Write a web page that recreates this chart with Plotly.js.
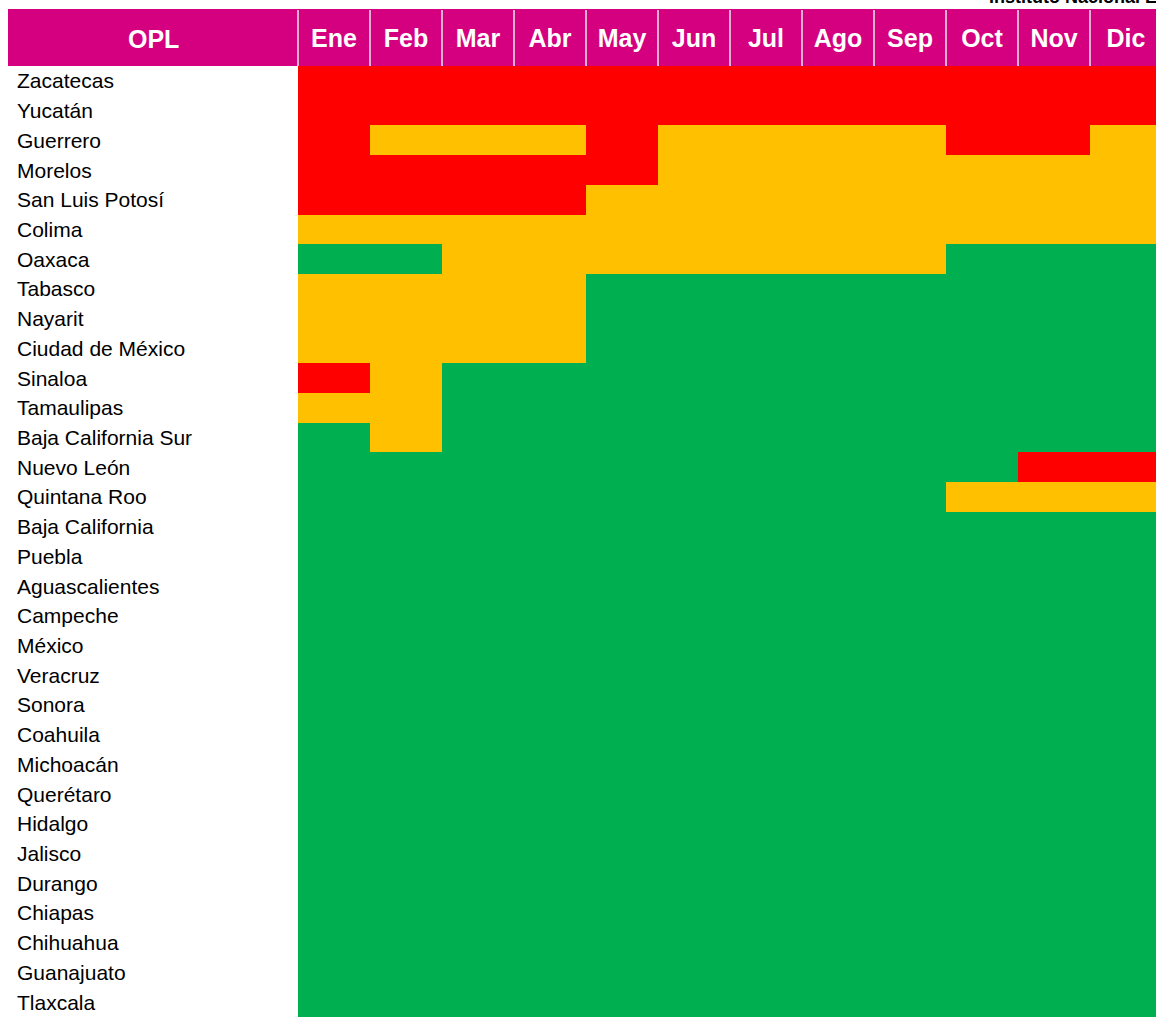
<!DOCTYPE html>
<html>
<head>
<meta charset="utf-8">
<script src="https://cdn.plot.ly/plotly-3.0.1.min.js"></script>
<style>html,body{margin:0;padding:0;background:#fff;}#chart{width:1156px;height:1017px;}</style>
</head>
<body>
<div id="chart"></div>
<script>
const months = ['Ene','Feb','Mar','Abr','May','Jun','Jul','Ago','Sep','Oct','Nov','Dic'];
const states = ['Zacatecas','Yucatán','Guerrero','Morelos','San Luis Potosí','Colima','Oaxaca','Tabasco','Nayarit','Ciudad de México','Sinaloa','Tamaulipas','Baja California Sur','Nuevo León','Quintana Roo','Baja California','Puebla','Aguascalientes','Campeche','México','Veracruz','Sonora','Coahuila','Michoacán','Querétaro','Hidalgo','Jalisco','Durango','Chiapas','Chihuahua','Guanajuato','Tlaxcala'];
// 0 = verde, 1 = amarillo, 2 = rojo
const levelColors = ['#00B050','#FFC000','#FF0000'];
const status = [
  [2,2,2,2,2,2,2,2,2,2,2,2], // Zacatecas
  [2,2,2,2,2,2,2,2,2,2,2,2], // Yucatán
  [2,1,1,1,2,1,1,1,1,2,2,1], // Guerrero
  [2,2,2,2,2,1,1,1,1,1,1,1], // Morelos
  [2,2,2,2,1,1,1,1,1,1,1,1], // San Luis Potosí
  [1,1,1,1,1,1,1,1,1,1,1,1], // Colima
  [0,0,1,1,1,1,1,1,1,0,0,0], // Oaxaca
  [1,1,1,1,0,0,0,0,0,0,0,0], // Tabasco
  [1,1,1,1,0,0,0,0,0,0,0,0], // Nayarit
  [1,1,1,1,0,0,0,0,0,0,0,0], // Ciudad de México
  [2,1,0,0,0,0,0,0,0,0,0,0], // Sinaloa
  [1,1,0,0,0,0,0,0,0,0,0,0], // Tamaulipas
  [0,1,0,0,0,0,0,0,0,0,0,0], // Baja California Sur
  [0,0,0,0,0,0,0,0,0,0,2,2], // Nuevo León
  [0,0,0,0,0,0,0,0,0,1,1,1], // Quintana Roo
  [0,0,0,0,0,0,0,0,0,0,0,0], // Baja California
  [0,0,0,0,0,0,0,0,0,0,0,0], // Puebla
  [0,0,0,0,0,0,0,0,0,0,0,0], // Aguascalientes
  [0,0,0,0,0,0,0,0,0,0,0,0], // Campeche
  [0,0,0,0,0,0,0,0,0,0,0,0], // México
  [0,0,0,0,0,0,0,0,0,0,0,0], // Veracruz
  [0,0,0,0,0,0,0,0,0,0,0,0], // Sonora
  [0,0,0,0,0,0,0,0,0,0,0,0], // Coahuila
  [0,0,0,0,0,0,0,0,0,0,0,0], // Michoacán
  [0,0,0,0,0,0,0,0,0,0,0,0], // Querétaro
  [0,0,0,0,0,0,0,0,0,0,0,0], // Hidalgo
  [0,0,0,0,0,0,0,0,0,0,0,0], // Jalisco
  [0,0,0,0,0,0,0,0,0,0,0,0], // Durango
  [0,0,0,0,0,0,0,0,0,0,0,0], // Chiapas
  [0,0,0,0,0,0,0,0,0,0,0,0], // Chihuahua
  [0,0,0,0,0,0,0,0,0,0,0,0], // Guanajuato
  [0,0,0,0,0,0,0,0,0,0,0,0]  // Tlaxcala
];
const headerLabel = 'OPL';
const sourceLabel = 'Instituto Nacional Electoral';

const W = 1156, H = 1017;
const mL = 298, mT = 66, mR = 0, mB = 0;
const pw = W - mL - mR, ph = H - mT - mB;
const px2x = p => (p - mL) / pw;
const py2y = p => 1 - (p - mT) / ph;
const magenta = '#D4007F';
const colW = 72; // column width in px; the last column runs past the right edge
const xMax = -0.5 + pw / colW;

const colorscale = [
  [0, levelColors[0]], [1/3, levelColors[0]],
  [1/3, levelColors[1]], [2/3, levelColors[1]],
  [2/3, levelColors[2]], [1, levelColors[2]]
];

const trace = {
  type: 'heatmap',
  x: months,
  y: states,
  z: status,
  zmin: 0, zmax: 2,
  colorscale: colorscale,
  showscale: false,
  xgap: 0, ygap: 0,
  hoverinfo: 'skip'
};

const shapes = [];
shapes.push({type:'rect', xref:'paper', yref:'paper', x0:px2x(8), x1:1, y0:1, y1:py2y(9), fillcolor:magenta, line:{width:0}, layer:'below'});
shapes.push({type:'line', xref:'paper', yref:'paper', x0:0, x1:0, y0:1, y1:py2y(10), line:{color:'#e8e8e8', width:1.5}});
for (let i = 0; i < months.length - 1; i++) {
  shapes.push({type:'line', xref:'x', yref:'paper', x0:i+0.5, x1:i+0.5, y0:1, y1:py2y(10), line:{color:'#e8e8e8', width:1.5}});
}

const annotations = states.map(s => ({
  xref:'paper', yref:'y', x:px2x(15), y:s, xanchor:'left', yanchor:'middle',
  text:s, showarrow:false, font:{family:'Liberation Sans, Arial, sans-serif', size:21, color:'#000'}
}));
annotations.push({
  xref:'paper', yref:'paper', x:px2x(153), y:py2y(39), xanchor:'center', yanchor:'middle',
  text:'<b>'+headerLabel+'</b>', showarrow:false,
  font:{family:'Liberation Sans, Arial, sans-serif', size:25, color:'#fff'}
});
annotations.push({
  xref:'paper', yref:'paper', x:px2x(988), y:py2y(-3), xanchor:'left', yanchor:'middle',
  text:'<b>'+sourceLabel+'</b>', showarrow:false, borderpad:0,
  font:{family:'Liberation Sans, Arial, sans-serif', size:18, color:'#000'}
});

const layout = {
  width: W, height: H,
  margin: {l:mL, r:mR, t:mT, b:mB, pad:0},
  paper_bgcolor:'#fff', plot_bgcolor:'#fff',
  showlegend:false,
  xaxis: {
    side:'top', type:'category', range:[-0.5, xMax], showgrid:false, zeroline:false, showline:false, ticks:'',
    tickfont:{family:'Liberation Sans, Arial, sans-serif', size:25, color:'#fff', weight:'bold'},
    ticklabelstandoff: 13, fixedrange:true
  },
  yaxis: {
    type:'category', autorange:'reversed', showgrid:false, zeroline:false, showline:false,
    showticklabels:false, ticks:'', fixedrange:true
  },
  shapes: shapes,
  annotations: annotations
};

Plotly.newPlot('chart', [trace], layout, {displayModeBar:false, staticPlot:true});
</script>
</body>
</html>
